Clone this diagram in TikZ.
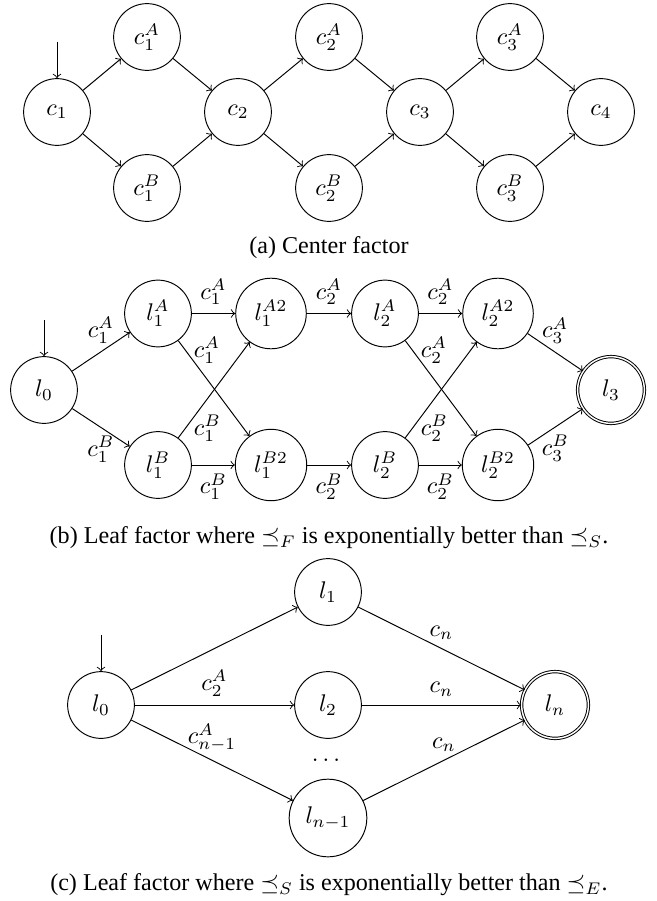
\documentclass[tikz,border=0pt]{standalone}
\usepackage[no-math]{fontspec}
\setmainfont{Liberation Serif}
\usepackage{amsmath,amssymb}
\usetikzlibrary{positioning}
\tikzset{
  statenode/.style={circle,draw,minimum size=27.7pt,inner sep=4.2pt},
  acceptnode/.style={statenode,double,double distance=0.6pt},
  trans/.style={->},
  startarr/.style={->},
  subcap/.style={font=\normalsize}
}

\begin{document}
\begin{tikzpicture}[x=0.415pt,y=0.415pt]
  \useasboundingbox (0,0) rectangle (657,-901);

  % (a) center factor
  \node[statenode] (c1) at (57,-112) {$c_1$};
  \node[statenode] (c1A) at (147,-37) {$c_1^A$};
  \node[statenode] (c1B) at (147,-188) {$c_1^B$};
  \node[statenode] (c2) at (238,-112) {$c_2$};
  \node[statenode] (c2A) at (329,-37) {$c_2^A$};
  \node[statenode] (c2B) at (329,-188) {$c_2^B$};
  \node[statenode] (c3) at (420,-112) {$c_3$};
  \node[statenode] (c3A) at (510,-37) {$c_3^A$};
  \node[statenode] (c3B) at (510,-188) {$c_3^B$};
  \node[statenode] (c4) at (601,-112) {$c_4$};
  \coordinate[above=15pt of c1] (c1in);
  \draw[startarr] (c1in) -- (c1);
  \draw[trans] (c1) -- (c1A);
  \draw[trans] (c1) -- (c1B);
  \draw[trans] (c1A) -- (c2);
  \draw[trans] (c1B) -- (c2);
  \draw[trans] (c2) -- (c2A);
  \draw[trans] (c2) -- (c2B);
  \draw[trans] (c2A) -- (c3);
  \draw[trans] (c2B) -- (c3);
  \draw[trans] (c3) -- (c3A);
  \draw[trans] (c3) -- (c3B);
  \draw[trans] (c3A) -- (c4);
  \draw[trans] (c3B) -- (c4);
  \node[subcap] (capa) at (329,-248) {(a) Center factor};

  % (b) leaf factor, F better than S
  \node[statenode] (bl0) at (44,-390) {$l_0$};
  \node[statenode] (bl1A) at (158,-313.5) {$l_1^A$};
  \node[statenode] (bl1B) at (158,-465) {$l_1^B$};
  \node[statenode] (bl1A2) at (271,-313.5) {$l_1^{A2}$};
  \node[statenode] (bl1B2) at (271,-465) {$l_1^{B2}$};
  \node[statenode] (bl2A) at (385,-313.5) {$l_2^A$};
  \node[statenode] (bl2B) at (385,-465) {$l_2^B$};
  \node[statenode] (bl2A2) at (498,-313.5) {$l_2^{A2}$};
  \node[statenode] (bl2B2) at (498,-465) {$l_2^{B2}$};
  \node[acceptnode] (bl3) at (611,-390) {$l_3$};
  \coordinate[above=15pt of bl0] (bl0in);
  \draw[startarr] (bl0in) -- (bl0);
  \draw[trans] (bl0) -- (bl1A) node[midway,above] {$c_1^A$};
  \draw[trans] (bl0) -- (bl1B) node[midway,below] {$c_1^B$};
  \draw[trans] (bl1A) -- (bl1A2) node[midway,above] {$c_1^A$};
  \draw[trans] (bl1A) -- (bl1B2) node[pos=0.1,right] {$c_1^A$};
  \draw[trans] (bl1B) -- (bl1A2) node[pos=0.1,right] {$c_1^B$};
  \draw[trans] (bl1B) -- (bl1B2) node[midway,below] {$c_1^B$};
  \draw[trans] (bl1A2) -- (bl2A) node[midway,above] {$c_2^A$};
  \draw[trans] (bl1B2) -- (bl2B) node[midway,below] {$c_2^B$};
  \draw[trans] (bl2A) -- (bl2A2) node[midway,above] {$c_2^A$};
  \draw[trans] (bl2A) -- (bl2B2) node[pos=0.1,right] {$c_2^A$};
  \draw[trans] (bl2B) -- (bl2A2) node[pos=0.1,right] {$c_2^B$};
  \draw[trans] (bl2B) -- (bl2B2) node[midway,below] {$c_2^B$};
  \draw[trans] (bl2A2) -- (bl3) node[midway,above] {$c_3^A$};
  \draw[trans] (bl2B2) -- (bl3) node[midway,below] {$c_3^B$};
  \node[subcap] (capb) at (329,-538) {(b) Leaf factor where $\preceq_F$ is exponentially better than $\preceq_S$.};

  % (c) leaf factor, S better than E
  \node[statenode] (cl0) at (101,-705) {$l_0$};
  \node[statenode] (cl1) at (328,-592) {$l_1$};
  \node[statenode] (cl2) at (328,-705) {$l_2$};
  \node (cdots) at (328,-760) {$\dots$};
  \node[statenode] (clm) at (328,-818) {$l_{n-1}$};
  \node[acceptnode] (cln) at (555,-705) {$l_n$};
  \coordinate[above=15pt of cl0] (cl0in);
  \draw[startarr] (cl0in) -- (cl0);
  \draw[trans] (cl0) -- (cl1);
  \draw[trans] (cl0) -- (cl2) node[midway,above] {$c_2^A$};
  \draw[trans] (cl0) -- (clm) node[midway,above] {$c_{n-1}^A$};
  \draw[trans] (cl1) -- (cln) node[midway,above] {$c_n$};
  \draw[trans] (cl2) -- (cln) node[midway,above] {$c_n$};
  \draw[trans] (clm) -- (cln) node[midway,above] {$c_n$};
  \node[subcap] (capc) at (329,-885) {(c) Leaf factor where $\preceq_S$ is exponentially better than $\preceq_E$.};
\end{tikzpicture}
\end{document}
